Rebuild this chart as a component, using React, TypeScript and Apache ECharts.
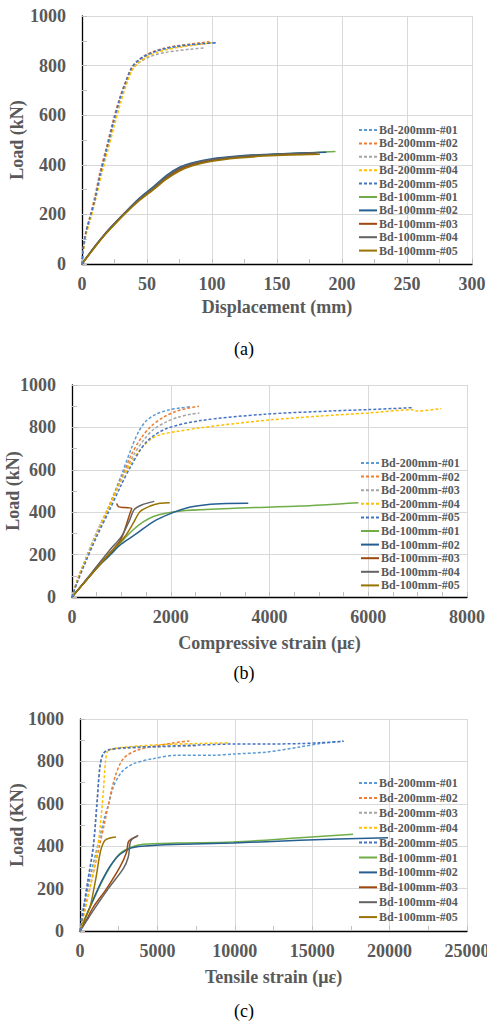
import React, { useEffect, useRef } from "react";
import * as echarts from "echarts";

const FONT = "'Liberation Serif', 'Times New Roman', serif";
const LABEL_GRAY = "#595959";

const seriesNames = [
  "Bd-200mm-#01", "Bd-200mm-#02", "Bd-200mm-#03", "Bd-200mm-#04", "Bd-200mm-#05",
  "Bd-100mm-#01", "Bd-100mm-#02", "Bd-100mm-#03", "Bd-100mm-#04", "Bd-100mm-#05",
];
const seriesColors = [
  "#5B9BD5", "#ED7D31", "#A5A5A5", "#FFC000", "#4472C4",
  "#70AD47", "#255E91", "#9E480E", "#636363", "#997300",
];
const captions = ["(a)", "(b)", "(c)"];
const xAxisNames = ["Displacement (mm)", "Compressive strain (με)", "Tensile strain (με)"];
const yAxisNames = ["Load (kN)", "Load (kN)", "Load (KN)"];
const xMaxes = [300, 8000, 25000];
const xIntervals = [50, 2000, 5000];
const xMinorSplits = [2, 4, 2];

// ---- Panel (a): displacement (mm) vs load (kN)
const dispA200_01 = [[0,0],[1,60],[3,125],[6,180],[10,260],[14,360],[19,460],[24,565],[29,660],[34,735],[38,785],[42,812],[48,835],[55,853],[63,866],[72,875],[82,882],[92,888],[103,892]];
const dispA200_02 = [[0,0],[1,65],[3,130],[6,190],[10,275],[14,375],[19,475],[24,580],[29,670],[34,742],[38,790],[42,815],[48,840],[55,857],[63,870],[72,879],[82,886],[91,892],[98,896]];
const dispA200_03 = [[0,0],[1,55],[3,120],[6,178],[10,255],[14,355],[19,455],[24,560],[29,655],[34,730],[38,780],[43,808],[49,828],[56,843],[64,853],[73,860],[83,866],[95,872]];
const dispA200_04 = [[0,0],[1,50],[3,115],[6,170],[10,250],[15,360],[20,460],[25,560],[30,655],[35,735],[39,785],[44,813],[50,835],[57,852],[65,864],[74,873],[84,881],[93,887],[100,892]];
const dispA200_05 = [[0,0],[1,62],[3,128],[6,185],[10,262],[14,362],[19,465],[24,570],[29,665],[34,740],[38,790],[42,816],[48,838],[55,855],[63,868],[72,877],[82,884],[93,889],[104,892]];
const dispA100_01 = [[0,0],[7,50],[14,97],[22,145],[33,205],[44,260],[55,306],[65,350],[75,383],[85,403],[100,420],[120,432],[140,440],[160,446],[180,450],[195,454]];
const dispA100_02 = [[0,0],[7,52],[14,99],[22,148],[33,208],[44,265],[55,312],[65,357],[75,390],[85,408],[100,424],[120,435],[140,442],[160,446],[175,449],[188,451]];
const dispA100_03 = [[0,0],[7,49],[14,96],[22,144],[33,204],[44,258],[55,303],[65,347],[75,380],[85,400],[100,418],[120,430],[140,438],[160,443],[180,446]];
const dispA100_04 = [[0,0],[7,51],[14,98],[22,146],[33,206],[44,262],[55,308],[65,352],[75,386],[85,405],[100,421],[120,433],[140,440],[160,445],[182,449]];
const dispA100_05 = [[0,0],[7,48],[14,95],[22,142],[33,202],[44,255],[55,300],[65,342],[75,375],[85,396],[100,414],[120,427],[140,435],[160,440],[183,443]];

// ---- Panel (b): compressive strain (με) vs load (kN)
const compB200_01 = [[0,0],[100,75],[250,165],[500,305],[750,430],[1000,575],[1200,700],[1350,780],[1500,830],[1700,862],[1950,882],[2200,892],[2390,897]];
const compB200_02 = [[0,0],[100,72],[250,160],[500,300],[750,425],[1000,560],[1200,670],[1400,750],[1600,805],[1850,848],[2100,875],[2350,890],[2570,900]];
const compB200_03 = [[0,0],[100,70],[250,158],[500,298],[750,422],[1000,555],[1250,670],[1450,740],[1650,790],[1900,825],[2150,848],[2400,862],[2580,868]];
const compB200_04 = [[0,0],[100,72],[250,162],[500,303],[750,428],[1000,550],[1200,635],[1400,700],[1600,745],[1800,766],[2100,780],[2600,798],[3300,818],[4000,835],[5000,853],[6000,868],[6900,883],[6980,877],[7480,889]];
const compB200_05 = [[0,0],[100,65],[250,150],[500,285],[750,405],[1000,530],[1200,620],[1500,730],[1900,793],[2600,832],[3900,862],[5300,878],[6000,884],[6890,893]];
const compB100_01 = [[0,0],[200,55],[400,110],[600,160],[770,200],[1000,260],[1240,317],[1450,355],[1650,380],[1900,395],[2300,408],[3200,418],[4600,429],[5800,445]];
const compB100_02 = [[0,0],[200,55],[400,110],[600,160],[770,198],[1000,250],[1320,301],[1650,356],[1980,392],[2320,420],[2720,435],[3130,441],[3570,442]];
const compB100_03 = [[0,0],[200,55],[400,110],[700,190],[970,265],[1050,305],[1110,348],[1175,395],[1210,418],[1070,422],[940,426],[905,442]];
const compB100_04 = [[0,0],[200,57],[400,115],[770,223],[1000,285],[1170,364],[1255,411],[1410,434],[1666,451]];
const compB100_05 = [[0,0],[200,54],[400,108],[770,207],[1070,285],[1240,348],[1380,403],[1580,429],[1780,442],[1980,445]];

// ---- Panel (c): tensile strain (με) vs load (KN)
const tensC200_01 = [[0,0],[150,90],[400,170],[900,330],[1300,450],[1600,540],[1830,593],[2150,679],[2690,750],[3440,789],[4730,813],[6240,829],[8600,829],[10000,835],[12050,844],[14200,868],[15500,884],[17000,895]];
const tensC200_02 = [[0,0],[300,100],[700,220],[1000,320],[1290,412],[1560,500],[1800,585],[2260,726],[2800,813],[3660,852],[5160,876],[6000,887],[7060,896]];
const tensC200_03 = [[0,0],[100,45],[200,100],[500,240],[850,400],[1080,600],[1270,770],[1450,830],[1800,852],[3000,862],[5000,868],[7000,872],[7600,874]];
const tensC200_04 = [[0,0],[300,90],[600,190],[860,280],[1100,370],[1300,490],[1500,650],[1650,800],[1800,850],[2200,860],[3000,868],[5200,879],[7500,884],[9700,888]];
const tensC200_05 = [[0,0],[100,40],[215,97],[500,230],[860,396],[1100,600],[1290,774],[1500,836],[1830,855],[3000,865],[5200,871],[8000,878],[10000,882],[12000,882],[14200,884],[15500,888],[17040,895]];
const tensC100_01 = [[0,0],[400,70],[860,145],[1400,230],[1936,302],[2580,365],[3335,396],[4090,409],[6240,415],[9900,420],[14200,440],[17640,456]];
const tensC100_02 = [[0,0],[400,72],[860,150],[1400,235],[1936,305],[2580,362],[3335,392],[4000,400],[6000,408],[9900,415],[14200,428],[19900,440]];
const tensC100_03 = [[0,0],[400,50],[860,113],[1721,200],[2582,302],[3012,373],[3119,420],[3334,435],[3700,447]];
const tensC100_04 = [[0,0],[400,45],[860,97],[1829,200],[2797,294],[3119,349],[3227,412],[3334,431],[3765,451]];
const tensC100_05 = [[0,0],[300,55],[645,113],[900,200],[1076,270],[1250,350],[1400,396],[1614,428],[1936,439],[2320,443]];

const panelData = [
  [dispA200_01, dispA200_02, dispA200_03, dispA200_04, dispA200_05, dispA100_01, dispA100_02, dispA100_03, dispA100_04, dispA100_05],
  [compB200_01, compB200_02, compB200_03, compB200_04, compB200_05, compB100_01, compB100_02, compB100_03, compB100_04, compB100_05],
  [tensC200_01, tensC200_02, tensC200_03, tensC200_04, tensC200_05, tensC100_01, tensC100_02, tensC100_03, tensC100_04, tensC100_05],
];

// layout
const grids = [
  { left: 82, top: 16, width: 390, height: 248 },
  { left: 72, top: 385, width: 395, height: 212 },
  { left: 80, top: 719, width: 387, height: 212 },
];
const xNameGaps = [34, 37, 37];
const yNameGaps = [56, 50, 54];
const legendPos = [
  { left: 358, top: 124, gap: 1.4 },
  { left: 360, top: 457, gap: 1.6 },
  { left: 358, top: 777, gap: 2.9 },
];
const captionPos = [
  { x: 244, y: 349 },
  { x: 244, y: 673 },
  { x: 244, y: 1011 },
];

export default function App() {
  const ref = useRef<HTMLDivElement>(null);
  useEffect(() => {
    if (!ref.current) return;
    const chart = echarts.init(ref.current, undefined, { renderer: "svg" });
    const plain = (v: number) => String(v);

    const xAxes = grids.map((_, i) => ({
      type: "value",
      gridIndex: i,
      min: 0,
      max: xMaxes[i],
      interval: xIntervals[i],
      name: xAxisNames[i],
      nameLocation: "middle",
      nameGap: xNameGaps[i],
      nameTextStyle: { fontFamily: FONT, fontWeight: "bold", fontSize: 18, color: LABEL_GRAY },
      axisLine: { show: true, onZero: false, lineStyle: { color: "#000", width: 1.3 } },
      axisTick: { show: true, inside: true, length: 5, lineStyle: { color: "#bfbfbf" } },
      minorTick: { show: true, splitNumber: xMinorSplits[i], length: 5, lineStyle: { color: "#bfbfbf" } },
      axisLabel: { fontFamily: FONT, fontWeight: "bold", fontSize: 18, color: LABEL_GRAY, margin: 11, formatter: plain },
      splitLine: { show: true, lineStyle: { color: "#d9d9d9", width: 1 } },
    }));
    const yAxes = grids.map((_, i) => ({
      type: "value",
      gridIndex: i,
      min: 0,
      max: 1000,
      interval: 200,
      name: yAxisNames[i],
      nameLocation: "middle",
      nameGap: yNameGaps[i],
      nameRotate: 90,
      nameMoveOverlap: false,
      nameTextStyle: { fontFamily: FONT, fontWeight: "bold", fontSize: 18, color: LABEL_GRAY },
      axisLine: { show: true, onZero: false, lineStyle: { color: "#000", width: 1.3 } },
      axisTick: { show: true, inside: true, length: 5, lineStyle: { color: "#bfbfbf" } },
      minorTick: { show: true, splitNumber: 2, length: 5, lineStyle: { color: "#bfbfbf" } },
      axisLabel: { fontFamily: FONT, fontWeight: "bold", fontSize: 18, color: LABEL_GRAY, margin: 16, formatter: plain },
      splitLine: { show: true, lineStyle: { color: "#d9d9d9", width: 1 } },
    }));

    const series: any[] = [];
    panelData.forEach((panel, p) => {
      panel.forEach((data, k) => {
        series.push({
          type: "line",
          name: seriesNames[k],
          xAxisIndex: p,
          yAxisIndex: p,
          data,
          symbol: "none",
          showSymbol: false,
          smooth: 0.3,
          z: k < 5 ? 3 : 2,
          lineStyle: { color: seriesColors[k], width: 1.5, type: k < 5 ? [3, 2] : "solid" },
          itemStyle: { color: seriesColors[k] },
        });
      });
    });

    const legends = legendPos.map((lp) => ({
      orient: "vertical",
      left: lp.left,
      top: lp.top,
      itemWidth: 18,
      itemHeight: 12,
      itemGap: lp.gap,
      padding: 0,
      data: seriesNames,
      itemStyle: { opacity: 0, borderWidth: 0 },
      textStyle: { fontFamily: FONT, fontWeight: "bold", fontSize: 12, color: LABEL_GRAY, lineHeight: 12, padding: [0, 0, 0, -3] },
    }));

    chart.setOption({
      animation: false,
      backgroundColor: "#fff",
      grid: grids.map((g) => ({ ...g, containLabel: false, outerBoundsMode: "none" })),
      xAxis: xAxes,
      yAxis: yAxes,
      legend: legends,
      series,
      graphic: captions.map((c, i) => ({
        type: "text",
        x: captionPos[i].x,
        y: captionPos[i].y,
        style: { text: c, font: `18px ${FONT}`, fill: "#000", textAlign: "center", textVerticalAlign: "middle" },
      })),
    });
    return () => chart.dispose();
  }, []);
  return (
    <div
      ref={ref}
      style={{ position: "absolute", left: 0, top: 0, width: 487, height: 1021 }}
    />
  );
}
